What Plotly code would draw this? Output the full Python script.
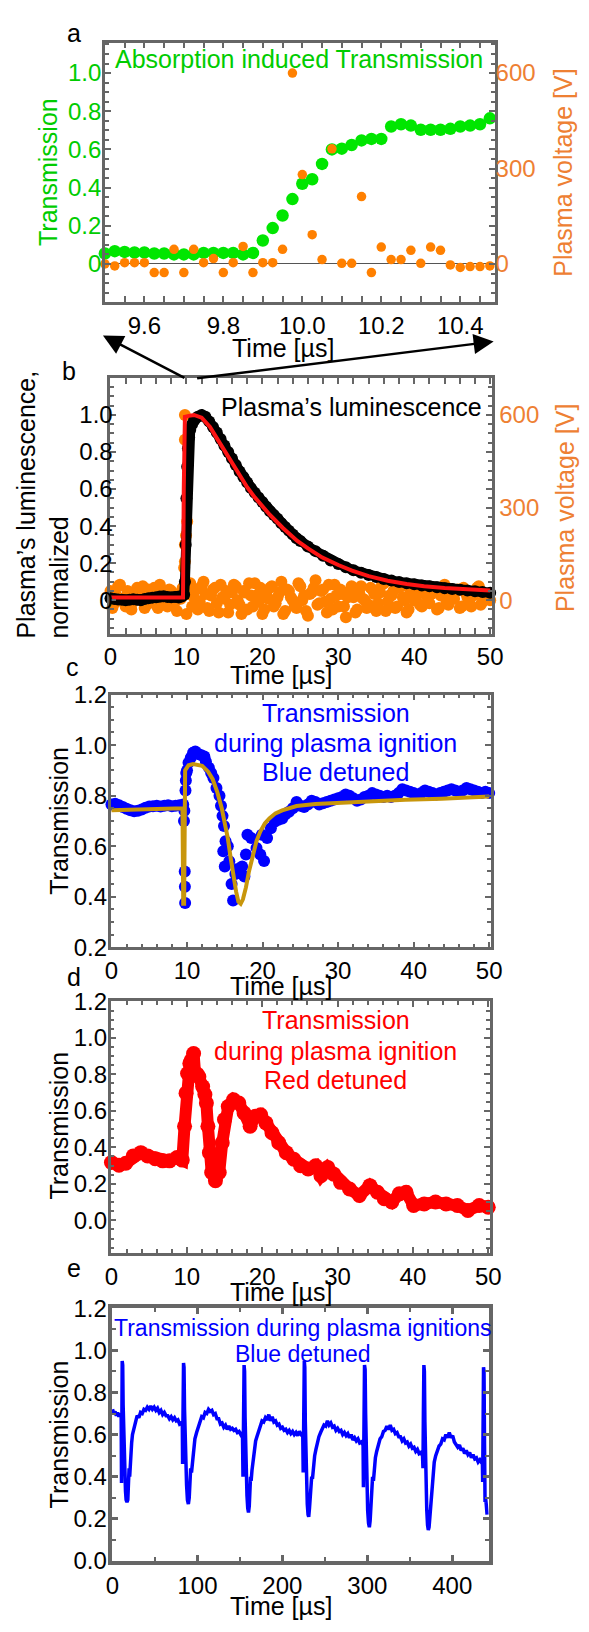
import plotly.graph_objects as go

FONT = "Liberation Sans, Arial, Helvetica, sans-serif"
W, H = 589, 1632
GRAY = "#666666"
GREEN = "#00E600"
GREEN_TXT = "#00CC00"
ORANGE = "#FF8000"
ORANGE_TXT = "#EE8033"
BLUE = "#0000FF"
RED = "#FF0000"
FIT_RED = "#FF1414"
GOLD = "#C8960C"

# ---------------- panel a: absorption induced transmission ----------------
TIME_A = [9.500, 9.525, 9.550, 9.575, 9.600, 9.625, 9.650, 9.675, 9.700, 9.725,
          9.750, 9.775, 9.800, 9.825, 9.850, 9.875, 9.900, 9.925, 9.950, 9.975,
          10.000, 10.025, 10.050, 10.075, 10.100, 10.125, 10.150, 10.175, 10.200, 10.225,
          10.250, 10.275, 10.300, 10.325, 10.350, 10.375, 10.400, 10.425, 10.450, 10.475]
TRANS_A = [0.055, 0.067, 0.063, 0.060, 0.060, 0.055, 0.055, 0.050, 0.050, 0.050,
           0.058, 0.058, 0.058, 0.058, 0.050, 0.058, 0.123, 0.188, 0.254, 0.340,
           0.420, 0.444, 0.524, 0.600, 0.604, 0.623, 0.647, 0.655, 0.655, 0.720,
           0.732, 0.725, 0.703, 0.703, 0.703, 0.708, 0.720, 0.725, 0.732, 0.763]
VOLT_A = [0, -6, 4, 4, 4, -27, -27, 46, -27, 46,
          4, 17, -27, 4, 55, -27, 4, 4, 46, 600,
          281, 92, 14, 362, 2, 2, 212, -27, 53, 14,
          14, 43, 2, 53, 43, -3, -11, -8, -8, -6]

# ---------------- panel b: plasma luminescence ----------------
TIME_B_LUM = [0.0, 0.5, 1.0, 1.5, 2.0, 2.5, 3.0, 3.5, 4.0, 4.5,
              5.0, 5.5, 6.0, 6.5, 7.0, 7.5, 8.0, 8.5, 9.0, 9.4,
              9.7, 9.8, 9.9, 10.0, 10.1, 10.2, 10.35, 10.5, 10.75, 11.0,
              11.5, 12.0, 12.5, 13.0, 13.5, 14.0, 14.5, 15.0, 15.5, 16.0,
              16.5, 17.0, 17.5, 18.0, 18.5, 19.0, 19.5, 20.0, 20.5, 21.0,
              21.5, 22.0, 22.5, 23.0, 23.5, 24.0, 24.5, 25.0, 26.0, 27.0,
              28.0, 29.0, 30.0, 31.0, 32.0, 33.0, 34.0, 35.0, 36.0, 37.0,
              38.0, 39.0, 40.0, 41.0, 42.0, 43.0, 44.0, 45.0, 46.0, 47.0,
              48.0, 49.0, 50.0]
LUM_B = [0.010, 0.006, 0.004, 0.002, 0.000, 0.003, 0.005, 0.003, 0.000, 0.006,
         0.010, 0.014, 0.016, 0.020, 0.022, 0.018, 0.016, 0.018, 0.015, 0.020,
         0.030, 0.100, 0.300, 0.550, 0.720, 0.820, 0.880, 0.920, 0.950, 0.970,
         0.990, 1.000, 0.990, 0.965, 0.935, 0.905, 0.870, 0.835, 0.800, 0.765,
         0.730, 0.695, 0.665, 0.635, 0.605, 0.580, 0.555, 0.530, 0.505, 0.480,
         0.460, 0.440, 0.415, 0.395, 0.375, 0.355, 0.335, 0.320, 0.290, 0.265,
         0.240, 0.215, 0.195, 0.178, 0.162, 0.148, 0.136, 0.125, 0.115, 0.106,
         0.098, 0.092, 0.086, 0.080, 0.075, 0.070, 0.065, 0.060, 0.056, 0.052,
         0.048, 0.044, 0.040]
TIME_B_FIT = [0.0, 9.55, 9.65, 9.80, 10.3, 11.0, 12.0, 13.1, 14.0, 15.0,
              16.0, 17.0, 18.0, 19.0, 20.0, 21.0, 22.7, 24.6, 26.0, 27.9,
              30.0, 31.8, 34.0, 36.5, 39.0, 41.3, 44.0, 46.1, 48.0, 50.0]
LUM_B_FIT = [0.015, 0.015, 0.600, 0.990, 0.995, 1.000, 0.985, 0.935, 0.875, 0.810,
             0.740, 0.670, 0.610, 0.555, 0.505, 0.460, 0.390, 0.320, 0.280, 0.230,
             0.190, 0.160, 0.130, 0.105, 0.088, 0.075, 0.066, 0.060, 0.056, 0.052]
TIME_B_VOLT = [0.0, 0.5, 1.0, 1.5, 2.0, 2.5, 3.0, 3.5, 4.0, 4.5,
               5.0, 5.5, 6.0, 6.5, 7.0, 7.5, 8.0, 8.5, 9.0, 9.5,
               10.0, 10.5, 11.0, 11.5, 12.0, 12.5, 13.0, 13.5, 14.0, 14.5,
               15.0, 15.5, 16.0, 16.5, 17.0, 17.5, 18.0, 18.5, 19.0, 19.5,
               20.0, 20.5, 21.0, 21.5, 22.0, 22.5, 23.0, 23.5, 24.0, 24.5,
               25.0, 25.5, 26.0, 26.5, 27.0, 27.5, 28.0, 28.5, 29.0, 29.5,
               30.0, 30.5, 31.0, 31.5, 32.0, 32.5, 33.0, 33.5, 34.0, 34.5,
               35.0, 35.5, 36.0, 36.5, 37.0, 37.5, 38.0, 38.5, 39.0, 39.5,
               40.0, 40.5, 41.0, 41.5, 42.0, 42.5, 43.0, 43.5, 44.0, 44.5,
               45.0, 45.5, 46.0, 46.5, 47.0, 47.5, 48.0, 48.5, 49.0, 49.5,
               50.0]
VOLT_B = [30, -10, 45, 5, -20, 25, -5, 40, 10, -25,
          35, 0, -15, 50, 15, -20, 30, -5, 20, 40,
          -45, 55, 10, -30, 45, 20, -35, 35, -10, 50,
          5, -40, 25, 45, -15, 30, -30, 15, 55, -5,
          -45, 20, 40, -20, 10, 60, -35, 30, 0, -25,
          45, 15, -50, 25, 65, -10, 35, -40, 5, 50,
          -20, 20, -55, 30, 10, -30, 45, 0, -15, 35,
          -35, 25, 55, -5, 15, -25, 40, 10, -40, 30,
          0, 45, -20, 20, -10, 35, -30, 15, 50, -15,
          5, 30, -25, 40, 10, -20, 25, 45, -5, 20,
          0]
TIME_B_VOLT_MID = [0.25, 0.75, 1.25, 1.75, 2.25, 2.75, 3.25, 3.75, 4.25, 4.75,
                   5.25, 5.75, 6.25, 6.75, 7.25, 7.75, 8.25, 8.75, 9.25, 9.75,
                   10.25, 10.75, 11.25, 11.75, 12.25, 12.75, 13.25, 13.75, 14.25, 14.75,
                   15.25, 15.75, 16.25, 16.75, 17.25, 17.75, 18.25, 18.75, 19.25, 19.75,
                   20.25, 20.75, 21.25, 21.75, 22.25, 22.75, 23.25, 23.75, 24.25, 24.75,
                   25.25, 25.75, 26.25, 26.75, 27.25, 27.75, 28.25, 28.75, 29.25, 29.75,
                   30.25, 30.75, 31.25, 31.75, 32.25, 32.75, 33.25, 33.75, 34.25, 34.75,
                   35.25, 35.75, 36.25, 36.75, 37.25, 37.75, 38.25, 38.75, 39.25, 39.75,
                   40.25, 40.75, 41.25, 41.75, 42.25, 42.75, 43.25, 43.75, 44.25, 44.75,
                   45.25, 45.75, 46.25, 46.75, 47.25, 47.75, 48.25, 48.75, 49.25, 49.75]
VOLT_B_MID = [-25, 15, 50, -5, 30, -30, 20, 5, 45, -15,
              10, 40, -25, 25, -10, 35, 15, -35, 5, 30,
              20, -20, 35, -5, 60, -25, 15, 40, -40, 10,
              30, -15, 50, 0, -45, 25, 55, -20, 15, 40,
              -30, 5, 45, -10, 25, -45, 35, 10, -20, 55,
              0, -35, 20, 40, -15, 30, -5, 50, -30, 15,
              35, -20, 10, 45, -40, 25, 5, -25, 40, 20,
              -10, 50, -35, 15, 30, -20, 45, 0, -30, 25,
              10, -15, 35, -5, 20, 40, -25, 15, -10, 30,
              5, 35, -20, 25, -5, 15, 40, -15, 20, 10]
TIME_B_SPIKE = [9.8, 9.8, 10.1, 9.95, 9.8, 9.8, 9.7]
VOLT_B_SPIKE = [600, 520, 255, 210, 180, 125, 105]

# ---------------- panel c: blue detuned transmission ----------------
TIME_C = [0.0, 0.5, 1.0, 1.5, 2.0, 2.5, 3.0, 3.5, 4.0, 4.5,
          5.0, 5.5, 6.0, 6.5, 7.0, 7.5, 8.0, 8.5, 9.0, 9.5,
          9.60, 9.65, 9.70, 9.72, 9.75, 9.80, 9.85, 9.90, 10.0, 10.2,
          10.5, 10.8, 11.1, 11.5, 11.9, 12.3, 12.5, 12.9, 13.2, 13.5,
          13.9, 14.3, 14.5, 14.7, 14.8, 14.9, 15.0, 15.1, 15.4, 15.6,
          15.9, 16.1, 16.4, 16.7, 17.0, 17.3, 17.6, 17.8, 18.0, 18.5,
          19.2, 19.7, 19.9, 20.2, 20.6, 21.1, 21.6, 22.1, 22.6, 23.0,
          23.5, 24.0, 24.5,
          25.0, 25.5, 26.0, 26.5, 27.0, 27.5, 28.0, 28.5, 29.0, 29.5,
          30.0, 30.5, 31.0, 31.5, 32.0, 32.5, 33.0, 33.5, 34.0, 34.5,
          35.0, 35.5, 36.0, 36.5, 37.0, 37.5, 38.0, 38.5, 39.0, 39.5,
          40.0, 40.5, 41.0, 41.5, 42.0, 42.5, 43.0, 43.5, 44.0, 44.5,
          45.0, 45.5, 46.0, 46.5, 47.0, 47.5, 48.0, 48.5, 49.0, 49.5,
          50.0]
TRANS_C = [0.765, 0.768, 0.762, 0.755, 0.748, 0.742, 0.738, 0.740, 0.745, 0.752,
           0.757, 0.758, 0.760, 0.757, 0.760, 0.762, 0.758, 0.760, 0.762, 0.765,
           0.700, 0.740, 0.500, 0.440, 0.375, 0.820, 0.860, 0.890, 0.900, 0.930,
           0.950, 0.970, 0.975, 0.965, 0.960, 0.955, 0.935, 0.910, 0.890, 0.870,
           0.830, 0.800, 0.760, 0.720, 0.580, 0.680, 0.520, 0.620, 0.600, 0.540,
           0.450, 0.385, 0.490, 0.510, 0.500, 0.520, 0.480, 0.567, 0.645, 0.632,
           0.593, 0.567, 0.645, 0.541, 0.632, 0.671, 0.697, 0.705, 0.710, 0.725,
           0.736, 0.750, 0.775,
           0.760, 0.755, 0.765, 0.780, 0.775, 0.765, 0.770, 0.775, 0.780, 0.785,
           0.790, 0.795, 0.805, 0.800, 0.790, 0.780, 0.785, 0.795, 0.800, 0.810,
           0.805, 0.800, 0.795, 0.800, 0.795, 0.800, 0.810, 0.825, 0.820, 0.815,
           0.810, 0.805, 0.810, 0.820, 0.815, 0.810, 0.805, 0.810, 0.815, 0.820,
           0.825, 0.820, 0.815, 0.820, 0.830, 0.825, 0.820, 0.815, 0.810, 0.815,
           0.810]
TIME_C_FIT = [0.0, 9.40, 9.50, 9.62, 9.75, 10.2, 10.8, 12.0, 12.8, 13.4,
              14.0, 14.6, 15.0, 15.4, 15.8, 16.1, 16.5, 16.8, 17.1, 17.4,
              17.8, 18.2, 18.7, 19.2, 19.7, 20.3, 20.9, 21.7, 22.6, 23.5,
              24.5, 27.0, 29.3, 34.1, 38.9, 43.7, 50.0]
TRANS_C_FIT = [0.742, 0.750, 0.372, 0.372, 0.900, 0.920, 0.925, 0.918, 0.895, 0.865,
               0.815, 0.750, 0.690, 0.632, 0.550, 0.489, 0.420, 0.380, 0.372, 0.390,
               0.437, 0.500, 0.567, 0.620, 0.658, 0.690, 0.710, 0.730, 0.742, 0.752,
               0.759, 0.767, 0.771, 0.777, 0.784, 0.788, 0.797]

# ---------------- panel d: red detuned transmission ----------------
TIME_D = [0.0, 1.0, 1.9, 2.9, 3.9, 4.8, 5.8, 6.8, 7.7, 8.7,
          9.4, 9.7, 9.9, 10.1, 10.4, 10.6, 10.9, 11.1, 11.4, 11.6,
          12.1, 12.4, 12.6, 12.8, 13.0, 13.3, 13.8, 14.3, 14.7, 15.0,
          15.5, 16.2, 16.9, 17.6, 18.4, 19.1, 19.8, 20.5, 21.3, 22.2,
          23.2, 24.2, 25.1, 26.1, 27.1, 27.8, 28.7, 29.5, 30.4, 31.6,
          32.9, 34.3, 35.3, 36.2, 37.2, 38.2, 39.1, 40.1, 41.5, 43.0,
          44.4, 45.9, 47.3, 48.8, 50.0]
TRANS_D = [0.317, 0.302, 0.313, 0.353, 0.371, 0.353, 0.338, 0.326, 0.326, 0.344,
           0.330, 0.516, 0.697, 0.805, 0.860, 0.878, 0.914, 0.805, 0.800, 0.787,
           0.733, 0.690, 0.643, 0.516, 0.371, 0.262, 0.217, 0.262, 0.425, 0.552,
           0.624, 0.661, 0.643, 0.588, 0.516, 0.570, 0.579, 0.534, 0.480, 0.425,
           0.371, 0.335, 0.299, 0.281, 0.299, 0.244, 0.290, 0.253, 0.208, 0.172,
           0.136, 0.190, 0.154, 0.118, 0.100, 0.145, 0.154, 0.081, 0.090, 0.100,
           0.090, 0.081, 0.054, 0.081, 0.072]

# ---------------- panel e: repeated ignitions, blue detuned ----------------
TIME_E = [0, 1.5, 3, 4.5, 6, 7.5, 9, 10.2, 10.6, 11.0,
          11.4, 12.0, 12.5, 13.2, 13.8, 14.5, 15.3, 16.0, 17.0, 18.0,
          18.8, 19.5, 20.2, 20.8, 21.5, 22.5, 23.5, 24.5, 26, 27.5,
          29, 31, 33, 35, 37, 39, 41, 43, 45, 47,
          49, 51, 53, 55, 57, 59, 61, 63, 65, 67,
          69, 71, 73, 75, 77, 79, 81,
          82.2, 82.5, 82.9, 83.6, 84.2, 84.8, 85.5, 86.3, 87.2, 88.2,
          89.3, 90.3, 91.2, 92.0, 93.0, 94.0, 95.5, 97, 99, 101,
          103, 105, 107, 109, 111, 113, 115, 117, 119, 121,
          123, 125, 127, 129, 131, 133, 135, 137, 139, 141,
          143, 145, 147, 149, 151, 153,
          153.6, 154.2, 154.9, 155.5, 156.1, 156.8, 157.5, 158.3, 159.2, 160.1,
          161.0, 161.8, 162.5, 163.2, 164.2, 165.5, 167, 168.5, 170, 172,
          174, 176, 178, 180, 182, 184, 186, 188, 190, 192,
          194, 196, 198, 200, 202, 204, 206, 208, 210, 212,
          214, 216, 218, 220, 222, 224,
          224.5, 225.1, 225.8, 226.4, 227.0, 227.7, 228.5, 229.3, 230.2, 231.0,
          231.9, 232.8, 233.7, 234.5, 235.4, 236.5, 238, 239.5, 241, 243,
          245, 247, 249, 251, 253, 255, 257, 259, 261, 263,
          265, 267, 269, 271, 273, 275, 277, 279, 281, 283,
          285, 287, 289, 291, 293, 295,
          295.4, 296.0, 296.7, 297.4, 298.0, 298.7, 299.5, 300.4, 301.4, 302.4,
          303.3, 304.2, 305.2, 306.2, 307.2, 308.2, 309.5, 311, 313, 315,
          317, 319, 321, 323, 325, 327, 329, 331, 333, 335,
          337, 339, 341, 343, 345, 347, 349, 351, 353, 355,
          357, 359, 361, 363, 365,
          365.5, 366.0, 366.6, 367.2, 367.8, 368.5, 369.2, 370.0, 370.9, 371.8,
          372.7, 373.7, 374.8, 375.8, 376.8, 377.8, 378.8, 380.5, 382.5, 384.5,
          386.5, 388.5, 390.5, 392.5, 394.5, 396.5, 398.5, 400.5, 402.5, 404.5,
          406.5, 408.5, 410.5, 412.5, 414.5, 416.5, 418.5, 420.5, 422.5, 424.5,
          426.5, 428.5, 430.5, 432.5, 434.5, 435.5,
          435.8, 436.3, 436.8, 437.4, 438.0, 438.6, 439.2, 440.0, 441.0]
TRANS_E = [0.72, 0.70, 0.71, 0.69, 0.705, 0.685, 0.70, 0.69, 0.37, 0.60,
           0.95, 0.93, 0.74, 0.62, 0.46, 0.40, 0.33, 0.29, 0.28, 0.29,
           0.36, 0.44, 0.40, 0.47, 0.52, 0.56, 0.60, 0.62, 0.65, 0.665,
           0.69, 0.68, 0.705, 0.70, 0.72, 0.715, 0.73, 0.72, 0.735, 0.72,
           0.73, 0.715, 0.725, 0.705, 0.715, 0.695, 0.705, 0.69, 0.69, 0.675,
           0.685, 0.67, 0.68, 0.665, 0.67, 0.65, 0.655,
           0.64, 0.46, 0.66, 0.94, 0.92, 0.72, 0.58, 0.47, 0.36, 0.29,
           0.27, 0.30, 0.38, 0.44, 0.42, 0.47, 0.54, 0.58, 0.61, 0.64,
           0.655, 0.685, 0.68, 0.705, 0.70, 0.72, 0.71, 0.715, 0.695, 0.70,
           0.675, 0.675, 0.65, 0.655, 0.635, 0.645, 0.625, 0.64, 0.625, 0.63,
           0.62, 0.625, 0.61, 0.615, 0.60, 0.61,
           0.40, 0.62, 0.93, 0.90, 0.68, 0.52, 0.40, 0.31, 0.25, 0.23,
           0.26, 0.34, 0.40, 0.38, 0.43, 0.48, 0.52, 0.57, 0.59, 0.62,
           0.645, 0.665, 0.66, 0.68, 0.67, 0.695, 0.665, 0.685, 0.66, 0.665,
           0.645, 0.65, 0.63, 0.635, 0.62, 0.625, 0.61, 0.62, 0.605, 0.615,
           0.60, 0.61, 0.595, 0.615, 0.60, 0.59,
           0.42, 0.70, 0.95, 0.92, 0.66, 0.48, 0.36, 0.27, 0.22, 0.21,
           0.25, 0.33, 0.38, 0.40, 0.39, 0.45, 0.50, 0.53, 0.56, 0.59,
           0.61, 0.625, 0.645, 0.64, 0.665, 0.645, 0.655, 0.635, 0.64, 0.62,
           0.63, 0.615, 0.62, 0.60, 0.61, 0.595, 0.605, 0.585, 0.60, 0.575,
           0.585, 0.57, 0.58, 0.56, 0.565, 0.55,
           0.35, 0.62, 0.93, 0.91, 0.70, 0.50, 0.35, 0.24, 0.18, 0.16,
           0.19, 0.27, 0.35, 0.40, 0.38, 0.44, 0.49, 0.52, 0.55, 0.58,
           0.59, 0.615, 0.62, 0.64, 0.625, 0.645, 0.62, 0.625, 0.605, 0.61,
           0.59, 0.59, 0.57, 0.58, 0.56, 0.565, 0.545, 0.555, 0.535, 0.54,
           0.52, 0.53, 0.51, 0.515, 0.50,
           0.44, 0.70, 0.93, 0.90, 0.66, 0.47, 0.34, 0.24, 0.17, 0.147,
           0.16, 0.22, 0.27, 0.34, 0.38, 0.43, 0.47, 0.50, 0.53, 0.546,
           0.555, 0.58, 0.575, 0.60, 0.585, 0.61, 0.585, 0.595, 0.565, 0.555,
           0.54, 0.55, 0.525, 0.535, 0.51, 0.525, 0.505, 0.515, 0.49, 0.505,
           0.485, 0.49, 0.47, 0.48, 0.465, 0.46,
           0.375, 0.70, 0.92, 0.90, 0.55, 0.28, 0.30, 0.27, 0.22]

# tick labels
TICKS_A_X = [9.6, 9.8, 10.0, 10.2, 10.4]
TICKS_A_X_TEXT = ["9.6", "9.8", "10.0", "10.2", "10.4"]
TICKS_01 = [0, 0.2, 0.4, 0.6, 0.8, 1.0]
TICKS_01_TEXT = ["0", "0.2", "0.4", "0.6", "0.8", "1.0"]
TICKS_V = [0, 300, 600]
TICKS_50 = [0, 10, 20, 30, 40, 50]
TICKS_C_Y = [0.2, 0.4, 0.6, 0.8, 1.0, 1.2]
TICKS_C_Y_TEXT = ["0.2", "0.4", "0.6", "0.8", "1.0", "1.2"]
TICKS_012 = [0, 0.2, 0.4, 0.6, 0.8, 1.0, 1.2]
TICKS_012_TEXT = ["0.0", "0.2", "0.4", "0.6", "0.8", "1.0", "1.2"]
TICKS_E_X = [0, 100, 200, 300, 400]


def fx(px):
    return px / W


def fy(py):
    return 1 - py / H


# panel frames in page pixels: left, top, right, bottom
BOX = {
    "a": (102, 29, 504, 293),
    "b": (107, 370, 501, 630),
    "c": (108, 692, 500, 949),
    "d": (108, 1004, 499, 1260),
    "e": (109, 1316, 498, 1573),
}


def xdom(k):
    return [fx(BOX[k][0]), fx(BOX[k][2])]


def ydom(k):
    return [fy(BOX[k][3]), fy(BOX[k][1])]


def minor(dt, width=1.5):
    return dict(ticks="inside", ticklen=4, tickwidth=width, tickcolor=GRAY,
                tickmode="linear", tick0=0, dtick=dt, showgrid=False)


TICK_SIZE = 24


def frame(lw=2.5, tw=2, tickcolor="black", **kw):
    d = dict(showline=True, linecolor=GRAY, linewidth=lw, mirror="allticks",
             ticks="inside", ticklen=6, tickwidth=tw, tickcolor=GRAY,
             showgrid=False, zeroline=False,
             tickfont=dict(family=FONT, size=TICK_SIZE, color=tickcolor))
    d.update(kw)
    return d


fig = go.Figure()

# panel a
fig.add_trace(go.Scatter(x=TIME_A, y=TRANS_A, mode="markers", xaxis="x", yaxis="y",
                         marker=dict(size=12.5, color=GREEN), cliponaxis=False))
fig.add_trace(go.Scatter(x=TIME_A, y=VOLT_A, mode="markers", xaxis="x", yaxis="y2",
                         marker=dict(size=9.5, color=ORANGE), cliponaxis=False))

# panel b (voltage on the base axis so the luminescence sits above it)
fig.add_trace(go.Scatter(x=TIME_B_VOLT + TIME_B_VOLT_MID + TIME_B_SPIKE,
                         y=VOLT_B + VOLT_B_MID + VOLT_B_SPIKE, mode="markers",
                         xaxis="x2", yaxis="y3", marker=dict(size=12, color=ORANGE),
                         cliponaxis=False))
fig.add_trace(go.Scatter(x=TIME_B_LUM, y=LUM_B, mode="lines+markers", xaxis="x2", yaxis="y4",
                         line=dict(color="black", width=10), marker=dict(size=12, color="black"),
                         cliponaxis=False))
fig.add_trace(go.Scatter(x=TIME_B_FIT, y=LUM_B_FIT, mode="lines", xaxis="x2", yaxis="y4",
                         line=dict(color=FIT_RED, width=4)))

# panel c
fig.add_trace(go.Scatter(x=TIME_C, y=TRANS_C, mode="markers", xaxis="x3", yaxis="y5",
                         marker=dict(size=12, color=BLUE), cliponaxis=False))
fig.add_trace(go.Scatter(x=TIME_C_FIT, y=TRANS_C_FIT, mode="lines", xaxis="x3", yaxis="y5",
                         line=dict(color=GOLD, width=4)))

# panel d
fig.add_trace(go.Scatter(x=TIME_D, y=TRANS_D, mode="lines+markers", xaxis="x4", yaxis="y6",
                         line=dict(color=RED, width=12), marker=dict(size=15, color=RED),
                         cliponaxis=False))

# panel e
fig.add_trace(go.Scatter(x=TIME_E, y=TRANS_E, mode="lines", xaxis="x5", yaxis="y7",
                         line=dict(color=BLUE, width=3.5)))

YSHIFT = -4  # pull left tick labels toward the frame

layout = dict(
    width=W, height=H, margin=dict(l=0, r=0, t=0, b=0),
    paper_bgcolor="white", plot_bgcolor="white", showlegend=False,
    font=dict(family=FONT, size=TICK_SIZE, color="black"),
    # a
    xaxis=frame(domain=xdom("a"), anchor="y", range=[9.5, 10.487],
                tickvals=TICKS_A_X, ticktext=TICKS_A_X_TEXT, minor=minor(0.05)),
    yaxis=frame(domain=ydom("a"), anchor="x", range=[-0.2, 1.16], tickcolor=GREEN_TXT,
                tickvals=TICKS_01, ticktext=TICKS_01_TEXT, minor=minor(0.05),
                ticklabelstandoff=YSHIFT,
                zeroline=True, zerolinecolor="#555555", zerolinewidth=1),
    yaxis2=dict(overlaying="y", side="right", anchor="x", range=[-120, 696],
                tickvals=TICKS_V, showline=False, showgrid=False, zeroline=False,
                ticks="inside", ticklen=6, tickwidth=2, tickcolor=GRAY,
                tickfont=dict(family=FONT, size=TICK_SIZE, color=ORANGE_TXT)),
    # b
    xaxis2=frame(domain=xdom("b"), anchor="y3", range=[-0.1, 50.2],
                 tickvals=TICKS_50, minor=minor(2)),
    yaxis3=dict(domain=ydom("b"), anchor="x2", side="right", range=[-108, 720],
                tickvals=TICKS_V, showline=True, linecolor=GRAY, linewidth=2.5, mirror=True,
                showgrid=False, zeroline=False, ticks="inside", ticklen=6, tickwidth=2,
                tickcolor=GRAY, tickfont=dict(family=FONT, size=TICK_SIZE, color=ORANGE_TXT)),
    yaxis4=dict(overlaying="y3", side="left", anchor="x2", range=[-0.18, 1.2],
                tickvals=TICKS_01, ticktext=TICKS_01_TEXT, showline=False, mirror="allticks",
                showgrid=False, zeroline=False, ticks="inside", ticklen=6, tickwidth=2,
                tickcolor=GRAY, minor=minor(0.05), ticklabelstandoff=YSHIFT,
                tickfont=dict(family=FONT, size=TICK_SIZE, color="black")),
    # c
    xaxis3=frame(domain=xdom("c"), anchor="y5", range=[-0.1, 50.2],
                 tickvals=TICKS_50, minor=minor(2)),
    yaxis5=frame(domain=ydom("c"), anchor="x3", range=[0.2, 1.2], ticklabelstandoff=YSHIFT,
                 tickvals=TICKS_C_Y, ticktext=TICKS_C_Y_TEXT, minor=minor(0.05)),
    # d
    xaxis4=frame(domain=xdom("d"), anchor="y6", range=[-0.1, 50.2],
                 tickvals=TICKS_50, minor=minor(2)),
    yaxis6=frame(domain=ydom("d"), anchor="x4", range=[-0.18, 1.2], ticklabelstandoff=YSHIFT,
                 tickvals=TICKS_012, ticktext=TICKS_012_TEXT, minor=minor(0.05)),
    # e
    xaxis5=frame(lw=4, tw=3, domain=xdom("e"), anchor="y7", range=[-1, 443],
                 tickvals=TICKS_E_X, minor=minor(50, 2)),
    yaxis7=frame(lw=4, tw=3, domain=ydom("e"), anchor="x5", range=[0, 1.2],
                 ticklabelstandoff=YSHIFT,
                 tickvals=TICKS_012, ticktext=TICKS_012_TEXT, minor=minor(0.1, 2)),
)
fig.update_layout(**layout)


def label(x, y, text, size=25, color="black", angle=0, align="center"):
    return dict(xref="paper", yref="paper", x=fx(x), y=fy(y), text=text, showarrow=False,
                font=dict(family=FONT, size=size, color=color), textangle=angle,
                xanchor="center", yanchor="middle", align=align)


def arrow(tip_x, tip_y, tail_x, tail_y):
    return dict(xref="paper", yref="paper", x=fx(tip_x), y=fy(tip_y),
                ax=tail_x - tip_x, ay=tail_y - tip_y, axref="pixel", ayref="pixel",
                text="", showarrow=True, arrowhead=2, arrowsize=1.6, arrowwidth=2.5,
                arrowcolor="black", standoff=0)


TIME_TITLE = "Time [µs]"
annotations = [
    # panel letters
    label(70, 19, "a"), label(65, 363, "b"), label(69, 664, "c"),
    label(70, 979, "d"), label(70, 1275, "e"),
    # panel a
    label(302, 46, "Absorption induced Transmission", color=GREEN_TXT),
    label(44, 161, "Transmission", color=GREEN_TXT, angle=-90),
    label(575, 161, "Plasma voltage [V]", color=ORANGE_TXT, angle=-90),
    label(286, 340, TIME_TITLE),
    # panel b
    label(356, 400, "Plasma’s luminescence"),
    label(38, 499, "Plasma’s luminescence,<br>normalized", angle=-90, align="left"),
    label(576, 502, "Plasma voltage [V]", color=ORANGE_TXT, angle=-90),
    label(284, 672, TIME_TITLE),
    # panel c
    label(340, 711, "Transmission", color=BLUE),
    label(340, 741, "during plasma ignition", color=BLUE),
    label(340, 771, "Blue detuned", color=BLUE),
    label(55, 820, "Transmission", angle=-90),
    label(284, 988, TIME_TITLE),
    # panel d
    label(340, 1023, "Transmission", color=RED),
    label(340, 1054, "during plasma ignition", color=RED),
    label(340, 1084, "Red detuned", color=RED),
    label(55, 1130, "Transmission", angle=-90),
    label(284, 1299, TIME_TITLE),
    # panel e
    label(306, 1336, "Transmission during plasma ignitions", size=23, color=BLUE),
    label(306, 1363, "Blue detuned", size=23, color=BLUE),
    label(55, 1444, "Transmission", angle=-90),
    label(284, 1619, TIME_TITLE),
    # zoom arrows from panel b to panel a
    arrow(100, 327, 183, 370),
    arrow(503, 333, 205, 370),
]
fig.update_layout(annotations=annotations)

fig.write_html("out.html")
